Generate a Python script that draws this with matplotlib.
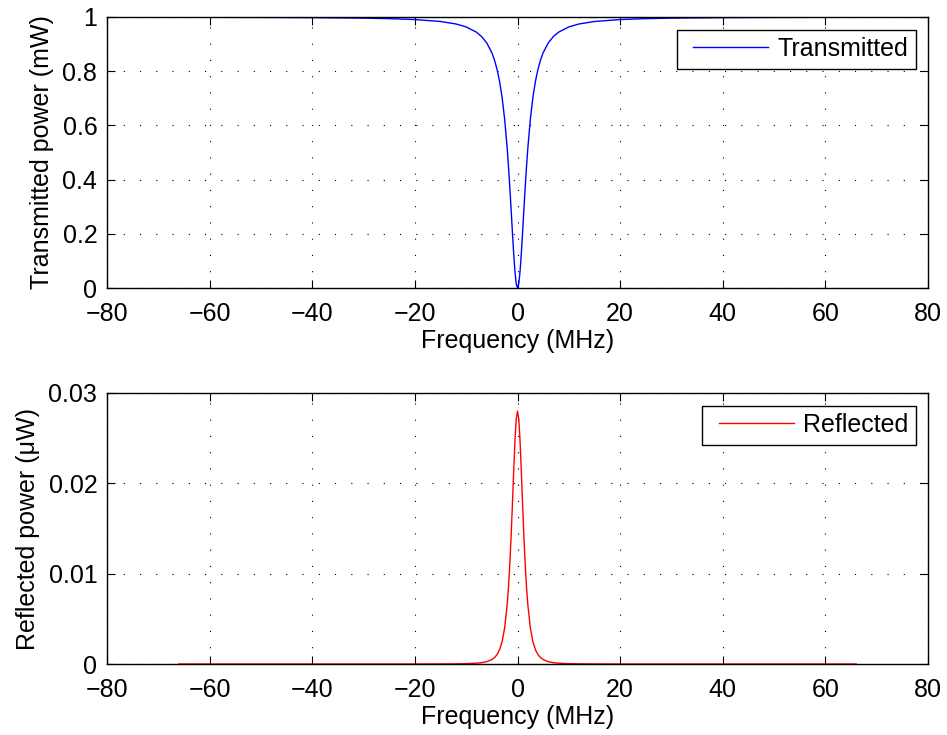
import numpy as np
import matplotlib
matplotlib.use("Agg")
import matplotlib.pyplot as plt
from matplotlib.legend_handler import HandlerLine2D

plt.rcParams['font.family'] = ['Liberation Sans', 'DejaVu Sans']
plt.rcParams['font.size'] = 18
plt.rcParams['lines.scale_dashes'] = False

# One-sided sweep (MHz); the spectra are symmetric about the resonance.
freq_half = [0, 0.25, 0.5, 0.75, 1, 1.25, 1.5, 1.75, 2, 2.5, 3, 3.5, 4, 4.5,
             5, 6, 7, 8, 10, 12, 15, 20, 25, 30, 40, 50, 66]

# Transmitted power (mW)
trans_half = [0.0, 0.016, 0.062, 0.129, 0.208, 0.291, 0.372, 0.446, 0.513,
              0.622, 0.703, 0.763, 0.808, 0.842, 0.868, 0.9045, 0.928, 0.944,
              0.9634, 0.9743, 0.9834, 0.9906, 0.9940, 0.9958, 0.9976, 0.9985,
              0.9991]

# Reflected power (uW)
refl_half = [0.0280, 0.02710, 0.02465, 0.02125, 0.01755, 0.01406, 0.01105,
             0.00858, 0.00665, 0.00400, 0.00247, 0.00157, 0.00103, 0.00070,
             0.00049, 0.000255, 0.000145, 0.000088, 0.0000375, 0.0000185,
             0.0000077, 0.0000025, 0.000001, 0.0000005, 0.0000002, 0.0000001,
             0.0]

x_ticks = [-80, -60, -40, -20, 0, 20, 40, 60, 80]
trans_ticks = [0, 0.2, 0.4, 0.6, 0.8, 1]
trans_ticklabels = ['0', '0.2', '0.4', '0.6', '0.8', '1']
refl_ticks = [0, 0.01, 0.02, 0.03]
refl_ticklabels = ['0', '0.01', '0.02', '0.03']


def mirror(a, sign=1):
    a = np.asarray(a, dtype=float)
    return np.concatenate([sign * a[::-1], a[1:]])


freq = mirror(freq_half, -1)
trans = mirror(trans_half)
refl = mirror(refl_half)


class LeadInLine(HandlerLine2D):
    """Legend line with blank space before it inside the handle box."""

    def __init__(self, lead, **kw):
        super().__init__(**kw)
        self.lead = lead

    def create_artists(self, legend, orig_handle, xdescent, ydescent, width,
                       height, fontsize, trans):
        pad = self.lead * fontsize
        return super().create_artists(legend, orig_handle, xdescent - pad,
                                      ydescent, width - pad, height,
                                      fontsize, trans)


fig = plt.figure(figsize=(9.47, 7.35), dpi=100)
ax1 = fig.add_axes([107 / 947, 1 - 288 / 735, 821 / 947, 271 / 735])
ax2 = fig.add_axes([107 / 947, 1 - 664 / 735, 821 / 947, 271 / 735])


def style(ax, yticks, yticklabels, ylim):
    ax.set_xlim(-80, 80)
    ax.set_ylim(*ylim)
    ax.set_xticks(x_ticks)
    ax.set_yticks(yticks)
    ax.set_yticklabels(yticklabels)
    ax.tick_params(direction='in', length=6, width=0.8, top=True, right=True,
                   labelsize=18, colors='black')
    ax.tick_params(axis='x', pad=10)
    ax.tick_params(axis='y', pad=7)
    for s in ax.spines.values():
        s.set_linewidth(1.0)
        s.set_color('black')
    ax.grid(True, color='black', linewidth=0.8, linestyle=(0, (0.8, 10.9)))
    ax.set_axisbelow(True)
    ax.set_xlabel('Frequency (MHz)', fontsize=18, labelpad=2)


def add_legend(ax, line):
    leg = ax.legend(handles=[line], loc='upper right', fancybox=False,
                    framealpha=1, edgecolor='black', handlelength=3.36,
                    handletextpad=0.36, borderpad=0.3, borderaxespad=0.5,
                    fontsize=18,
                    handler_map={line: LeadInLine(0.36)})
    leg.get_frame().set_linewidth(1.0)
    return leg


l1, = ax1.plot(freq, trans, color='#0000ff', linewidth=1.0,
               label='Transmitted')
style(ax1, trans_ticks, trans_ticklabels, (0, 1))
ax1.set_ylabel('Transmitted power (mW)', fontsize=18, labelpad=6)
add_legend(ax1, l1)

l2, = ax2.plot(freq, refl, color='#ff0000', linewidth=1.0, label='Reflected')
style(ax2, refl_ticks, refl_ticklabels, (0, 0.03))
ax2.set_ylabel('Reflected power (μW)', fontsize=18, labelpad=6)
add_legend(ax2, l2)

fig.savefig('out.png', dpi=100)
